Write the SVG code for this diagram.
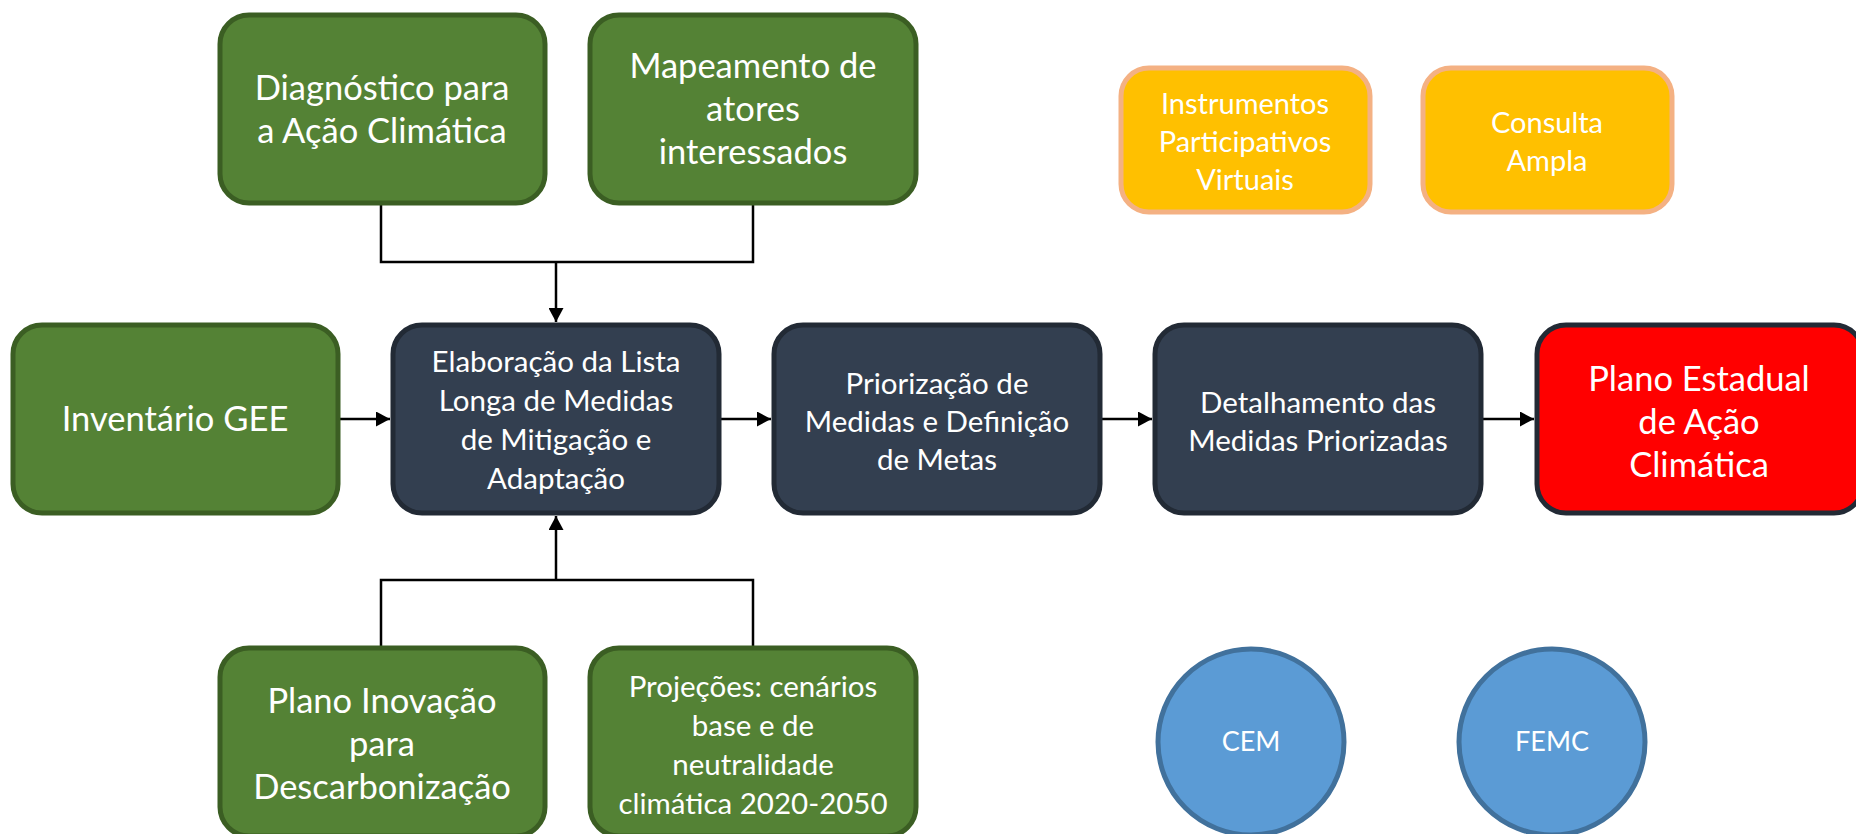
<svg xmlns="http://www.w3.org/2000/svg" width="1856" height="834" viewBox="0 0 1856 834">
<defs>
<style>
.g{fill:#548235;stroke:#3B5E23;stroke-width:5}
.d{fill:#333F50;stroke:#222A35;stroke-width:5}
.r{fill:#FF0000;stroke:#222A35;stroke-width:5}
.o{fill:#FFC000;stroke:#F4B183;stroke-width:5}
.c{fill:#5B9BD5;stroke:#41719C;stroke-width:5}
text{font-family:Lato,"Liberation Sans",sans-serif;fill:#FFFFFF;text-anchor:middle}
.big{font-size:34.5px}
.mid{font-size:29.5px}
.sm{font-size:29px}
.ci{font-size:27px}
.ln{fill:none;stroke:#000;stroke-width:2.5}
</style>
<marker id="ah" markerWidth="14" markerHeight="15" refX="14" refY="7.5" orient="auto" markerUnits="userSpaceOnUse" viewBox="0 0 14 15">
<path d="M0,0 L14,7.5 L0,15 Z" fill="#000"/>
</marker>
</defs>
<rect width="1856" height="834" fill="#FFFFFF"/>
<g id="connectors">
<path class="ln" d="M381,204 V262 H753 V204"/>
<path class="ln" d="M556,262 V322" marker-end="url(#ah)"/>
<path class="ln" d="M381,647 V580 H753 V647"/>
<path class="ln" d="M556,580 V516" marker-end="url(#ah)"/>
<path class="ln" d="M339,419 H390" marker-end="url(#ah)"/>
<path class="ln" d="M720,419 H771" marker-end="url(#ah)"/>
<path class="ln" d="M1101,419 H1152" marker-end="url(#ah)"/>
<path class="ln" d="M1482,419 H1534" marker-end="url(#ah)"/>
</g>
<g id="diagnostico">
<rect class="g" x="220" y="15" width="325" height="188" rx="29"/>
<text class="big"><tspan x="382" y="100">Diagnóstico para</tspan><tspan x="382" y="143">a Ação Climática</tspan></text>
</g>
<g id="mapeamento">
<rect class="g" x="590" y="15" width="326" height="188" rx="29"/>
<text class="big"><tspan x="753" y="78">Mapeamento de</tspan><tspan x="753" y="121">atores</tspan><tspan x="753" y="164">interessados</tspan></text>
</g>
<g id="inventario">
<rect class="g" x="13" y="325" width="325" height="188" rx="29"/>
<text class="big"><tspan x="175" y="431">Inventário GEE</tspan></text>
</g>
<g id="elaboracao">
<rect class="d" x="393" y="325" width="326" height="188" rx="29"/>
<text class="mid"><tspan x="556" y="372">Elaboração da Lista</tspan><tspan x="556" y="411">Longa de Medidas</tspan><tspan x="556" y="450">de Mitigação e</tspan><tspan x="556" y="489">Adaptação</tspan></text>
</g>
<g id="priorizacao">
<rect class="d" x="774" y="325" width="326" height="188" rx="29"/>
<text class="mid"><tspan x="937" y="394">Priorização de</tspan><tspan x="937" y="432">Medidas e Definição</tspan><tspan x="937" y="470">de Metas</tspan></text>
</g>
<g id="detalhamento">
<rect class="d" x="1155" y="325" width="326" height="188" rx="29"/>
<text class="mid"><tspan x="1318" y="413">Detalhamento das</tspan><tspan x="1318" y="451">Medidas Priorizadas</tspan></text>
</g>
<g id="plano-estadual">
<rect class="r" x="1537" y="325" width="326" height="188" rx="29"/>
<text class="big"><tspan x="1699" y="391">Plano Estadual</tspan><tspan x="1699" y="434">de Ação</tspan><tspan x="1699" y="477">Climática</tspan></text>
</g>
<g id="plano-inovacao">
<rect class="g" x="220" y="648" width="325" height="188" rx="29"/>
<text class="big"><tspan x="382" y="713">Plano Inovação</tspan><tspan x="382" y="756">para</tspan><tspan x="382" y="799">Descarbonização</tspan></text>
</g>
<g id="projecoes">
<rect class="g" x="590" y="648" width="326" height="188" rx="29"/>
<text class="mid"><tspan x="753" y="697">Projeções: cenários</tspan><tspan x="753" y="736">base e de</tspan><tspan x="753" y="775">neutralidade</tspan><tspan x="753" y="814">climática 2020-2050</tspan></text>
</g>
<g id="instrumentos">
<rect class="o" x="1121" y="68" width="249" height="144" rx="28"/>
<text class="sm"><tspan x="1245" y="114">Instrumentos</tspan><tspan x="1245" y="152">Participativos</tspan><tspan x="1245" y="190">Virtuais</tspan></text>
</g>
<g id="consulta">
<rect class="o" x="1423" y="68" width="249" height="144" rx="28"/>
<text class="sm"><tspan x="1547" y="133">Consulta</tspan><tspan x="1547" y="171">Ampla</tspan></text>
</g>
<g id="cem">
<circle class="c" cx="1251" cy="742" r="93"/>
<text class="ci"><tspan x="1251" y="751">CEM</tspan></text>
</g>
<g id="femc">
<circle class="c" cx="1552" cy="742" r="93"/>
<text class="ci"><tspan x="1552" y="751">FEMC</tspan></text>
</g>
</svg>
